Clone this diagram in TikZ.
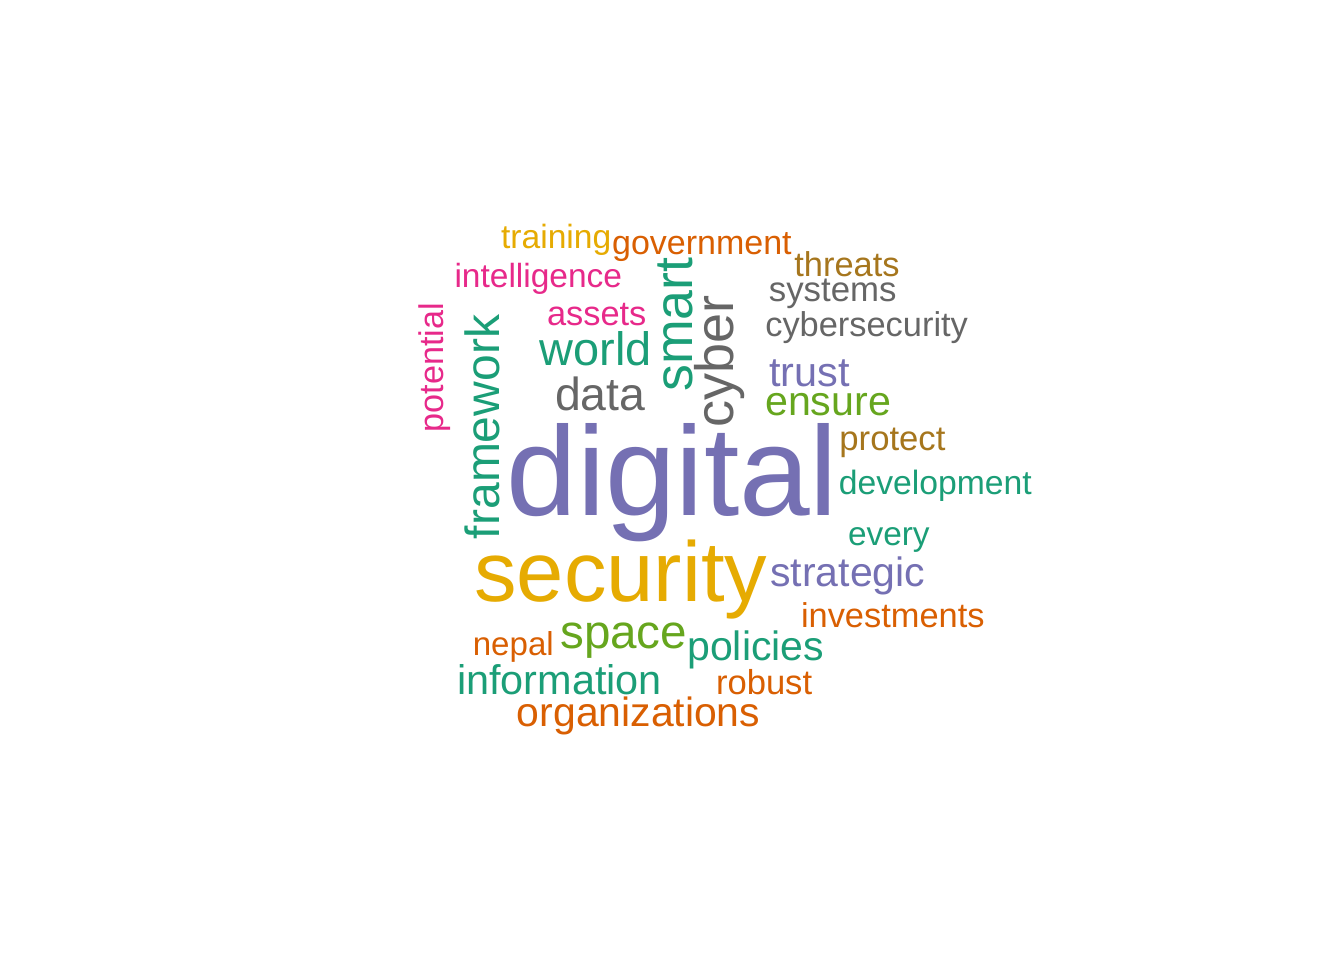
\documentclass[tikz,border=0pt]{standalone}
\usepackage{fontspec}
\setmainfont{Liberation Sans}
\definecolor{dteal}{HTML}{1B9E77}
\definecolor{dorange}{HTML}{D95F02}
\definecolor{dpurple}{HTML}{7570B3}
\definecolor{dpink}{HTML}{E7298A}
\definecolor{dgreen}{HTML}{66A61E}
\definecolor{dyellow}{HTML}{E6AB02}
\definecolor{dbrown}{HTML}{A6761D}
\definecolor{dgrey}{HTML}{666666}
\tikzset{
  word/.style={anchor=base west, inner sep=0pt, outer sep=0pt},
  fs/.style={font=\fontsize{#1}{#1}\selectfont},
  vword/.style={word, rotate=90}
}
\begin{document}
\begin{tikzpicture}[x=1pt,y=-1pt]
\useasboundingbox[fill=white] (0,0) rectangle (1344,960);
\begin{scope}[yshift=-2.5pt]
% horizontal words
\node[word, fs=33.6, text=dyellow] (training) at (501.1,246) {training};
\node[word, fs=34.0, text=dorange] (government) at (612.1,251.7) {government};
\node[word, fs=33.5, text=dpink] (intelligence) at (454.5,285) {intelligence};
\node[word, fs=34.4, text=dbrown] (threats) at (794.4,274.3) {threats};
\node[word, fs=34.8, text=dgrey] (systems) at (768.9,299.3) {systems};
\node[word, fs=34.4, text=dgrey] (cybersecurity) at (765.3,334) {cybersecurity};
\node[word, fs=34.4, text=dpink] (assets) at (547,323.3) {assets};
\node[word, fs=46.9, text=dteal] (world) at (539.8,363.3) {world};
\node[word, fs=46.4, text=dgrey] (data) at (555.1,408.3) {data};
\node[word, fs=41.4, text=dpurple] (trust) at (769.3,384) {trust};
\node[word, fs=41.2, text=dgreen] (ensure) at (765.1,412.7) {ensure};
\node[word, fs=34.7, text=dbrown] (protect) at (839.4,448.3) {protect};
\node[word, fs=33.7, text=dteal] (development) at (838.9,491.7) {development};
\node[word, fs=33.4, text=dteal] (every) at (848,543.3) {every};
\node[word, fs=41.0, text=dpurple] (strategic) at (770.4,584) {strategic};
\node[word, fs=34.4, text=dorange] (investments) at (801,625) {investments};
\node[word, fs=33.1, text=dorange] (nepal) at (472.8,653.3) {nepal};
\node[word, fs=47.6, text=dgreen] (space) at (560.2,646) {space};
\node[word, fs=41.0, text=dteal] (policies) at (687.3,658.3) {policies};
\node[word, fs=41.4, text=dteal] (information) at (457.2,691.7) {information};
\node[word, fs=34.6, text=dorange] (robust) at (716,691.7) {robust};
\node[word, fs=40.9, text=dorange] (organizations) at (516.9,723.5) {organizations};
\node[word, fs=127, text=dpurple] (digital) at (506.4,513.3) {digital};
\node[word, fs=85, text=dyellow] (security) at (474.4,599.3) {security};
\end{scope}
% vertical words
\node[vword, fs=34.2, text=dpink] (potential) at (443.3,432.2) {potential};
\node[vword, fs=48, text=dteal] (framework) at (499.3,539) {framework};
\node[vword, fs=53.7, text=dteal] (smart) at (692.3,391.7) {smart};
\node[vword, fs=54, text=dgrey] (cyber) at (733.3,427.5) {cyber};
\end{tikzpicture}
\end{document}
